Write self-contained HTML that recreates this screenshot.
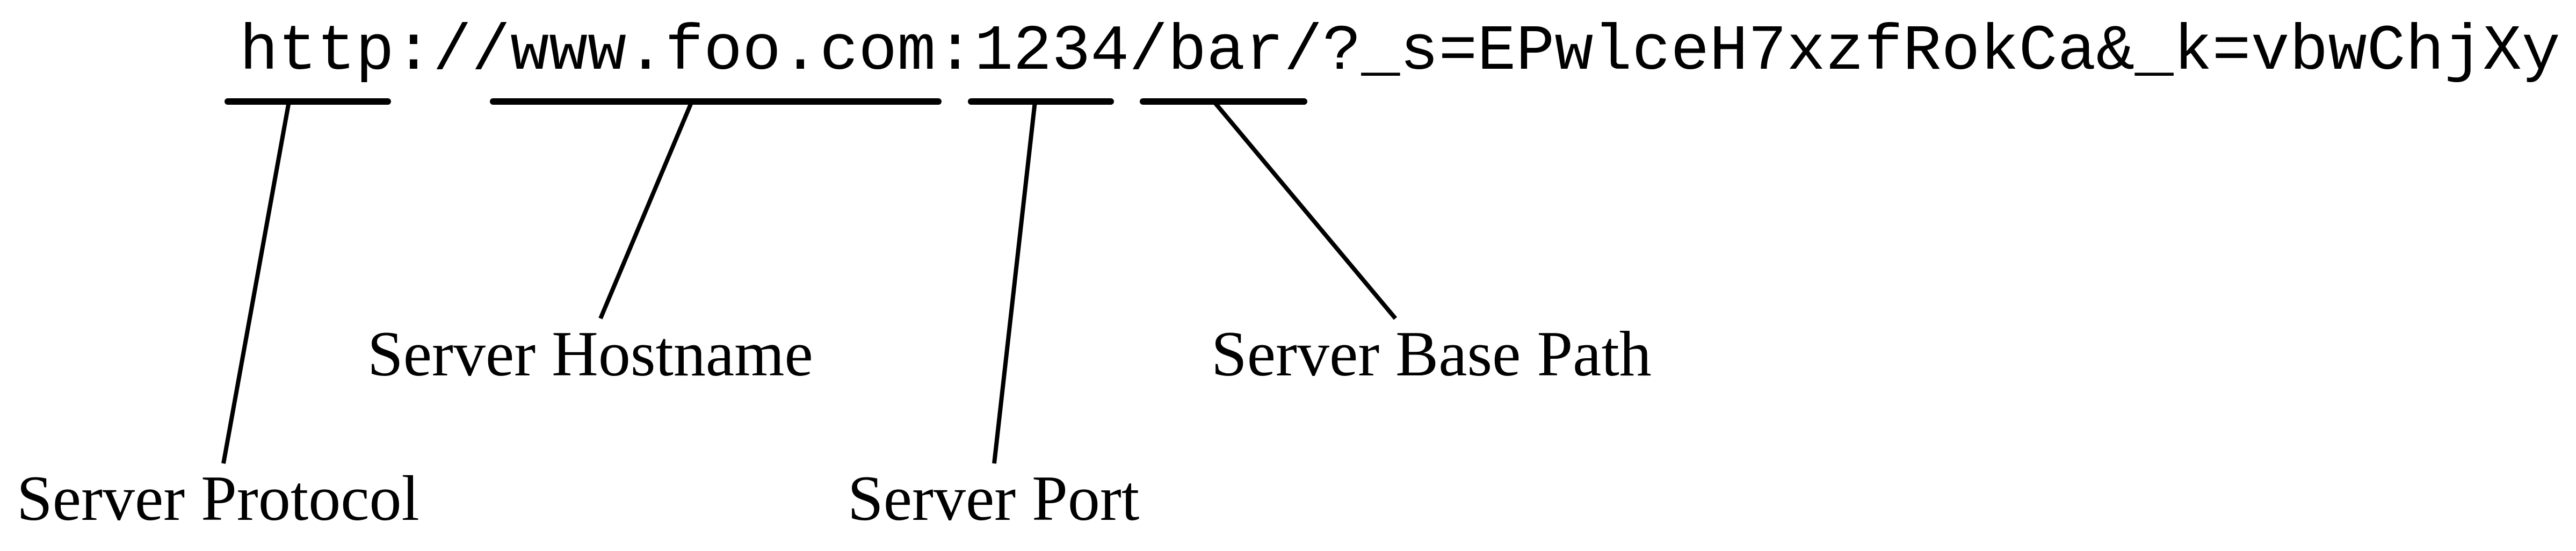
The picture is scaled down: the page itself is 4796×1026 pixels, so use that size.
<!DOCTYPE html>
<html><head><meta charset="utf-8"><style>
html,body{margin:0;padding:0;background:#fff;}
svg{display:block;}
</style></head><body>
<svg width="4796" height="1026" viewBox="0 0 4796 1026" xmlns="http://www.w3.org/2000/svg">
<rect width="4796" height="1026" fill="#fff"/>
<text x="446" y="128" font-family="Liberation Mono, monospace" font-size="120" fill="#000">http://www.foo.com:1234/bar/?_s=EPwlceH7xzfRokCa&amp;_k=vbwChjXy</text>
<g stroke="#000" stroke-width="12" stroke-linecap="round">
<line x1="424" y1="189" x2="722" y2="189"/>
<line x1="918" y1="189" x2="1747" y2="189"/>
<line x1="1808" y1="189" x2="2068" y2="189"/>
<line x1="2128" y1="189" x2="2428" y2="189"/>
</g>
<g stroke="#000" stroke-width="8">
<line x1="538" y1="189" x2="416" y2="863"/>
<line x1="1288" y1="189" x2="1118" y2="593"/>
<line x1="1927" y1="189" x2="1851" y2="863"/>
<line x1="2260" y1="189" x2="2598" y2="593"/>
</g>
<g font-family="Liberation Serif, serif" font-size="120" fill="#000">
<text x="31" y="968">Server Protocol</text>
<text x="684" y="699">Server Hostname</text>
<text x="1578" y="968">Server Port</text>
<text x="2255" y="699">Server Base Path</text>
</g>
</svg>
</body></html>
